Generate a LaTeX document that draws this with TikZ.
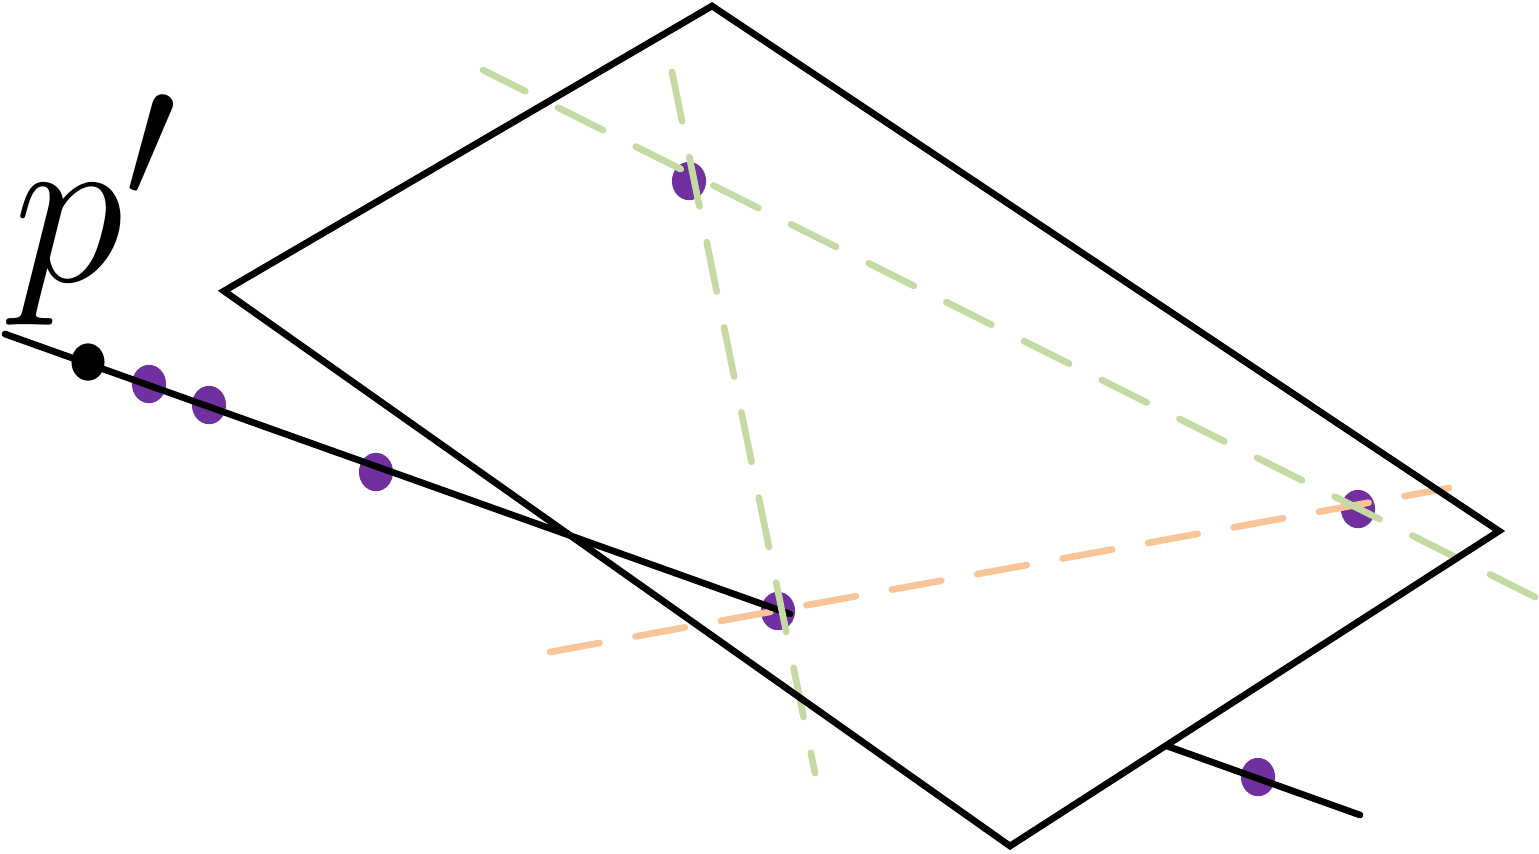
\documentclass[tikz,border=0pt]{standalone}
\usepackage{amsmath}
\usepackage{xcolor}
\usetikzlibrary{calc,positioning,shapes.geometric}
\definecolor{dotpurple}{RGB}{112,48,160}
\definecolor{linegreen}{RGB}{197,217,162}
\definecolor{lineorange}{RGB}{249,197,152}
\tikzset{%
	pt/.style       = {ellipse, fill=dotpurple, inner sep=0pt, minimum width=9.7pt, minimum height=10.9pt}, % point on a line
	ptblack/.style  = {ellipse, fill=black, inner sep=0pt, minimum width=9.4pt, minimum height=10.6pt},
	edge/.style     = {draw=black, line width=1.9pt, line cap=round},
	plane/.style    = {draw=black, line width=1.9pt, line join=miter},
	dashgreen/.style  = {draw=linegreen, line width=1.9pt, line cap=round, dash pattern=on 14.3pt off 10.4pt},
	dashorange/.style = {draw=lineorange, line width=1.9pt, line cap=round, dash pattern=on 14.3pt off 10.4pt},
}
\begin{document}
\begin{tikzpicture}[x=0.01cm, y=-0.01cm]
		\useasboundingbox (0,0) rectangle (1539,853);
		% plane corners
		\coordinate (c1) at (712,6);
		\coordinate (c2) at (1499,531);
		\coordinate (c3) at (1010,846);
		\coordinate (c4) at (224,291);
		% end points of lines
		\coordinate (a1) at (5,334);
		\coordinate (a2) at (790,614);
		\coordinate (b1) at (1167,746);
		\coordinate (b2) at (1360,815);
		\coordinate (g1) at (1535,597);
		\coordinate (g2) at (483,70);
		\coordinate (h1) at (672,72);
		\coordinate (h2) at (815,773);
		\coordinate (o1) at (550,652);
		\coordinate (o2) at (1449,488);
		% points
		\node[pt] (q1) at (149,384) {};
		\node[pt] (q2) at (209,405) {};
		\node[pt] (q3) at (376,472) {};
		\node[pt] (q4) at (778,611) {};
		\node[pt] (q5) at (689,181) {};
		\node[pt] (q6) at (1358,509) {};
		\node[pt] (q7) at (1258,777) {};
		\draw[dashorange] (o1) -- (o2);
		\draw[edge] (a1) -- (a2);
		\draw[dashgreen] (g1) -- (g2);
		\draw[dashgreen] (h1) -- (h2);
		\draw[plane] (c1) -- (c2) -- (c3) -- (c4) -- cycle;
		\draw[edge] (b1) -- (b2);
		\node[ptblack] (p) at (88,362) {};
		\node[anchor=base west, inner sep=0pt, font=\Huge, scale=2.57] (plabel) at (12,281) {$p'$};
		\end{tikzpicture}
\end{document}
